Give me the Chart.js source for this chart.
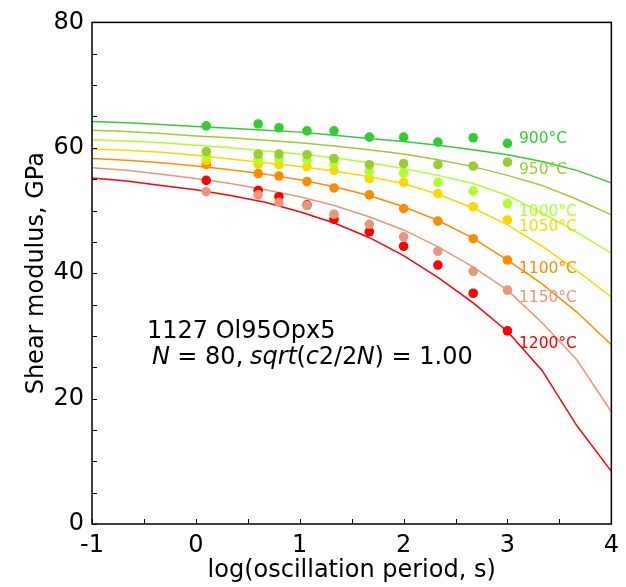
<!DOCTYPE html>
<html>
<head>
<meta charset="utf-8">
<script src="https://cdn.jsdelivr.net/npm/chart.js@4.4.0/dist/chart.umd.min.js"></script>
<style>
  html, body { margin: 0; padding: 0; background: #fff; }
  #grafico-modulo { display: block; }
</style>
</head>
<body>
<canvas id="grafico-modulo" width="626" height="587"></canvas>
<script>
// temperaturas e cores de cada serie
const temperaturas = ['900°C', '950°C', '1000°C', '1050°C', '1100°C', '1150°C', '1200°C']
const cores = ['#32cd32', '#9acd32', '#adff2f', '#ffd700', '#ff8c00', '#e9967a', '#ff0000']

// pontos medidos: log(periodo) e modulo em GPa
const periodos = [0.1, 0.6, 0.8, 1.07, 1.33, 1.67, 2.0, 2.33, 2.67, 3.0]
const medidos900 = [63.5, 63.8, 63.2, 62.7, 62.7, 61.7, 61.7, 60.9, 61.6, 60.7]
const medidos950 = [59.4, 59.0, 59.0, 58.9, 58.3, 57.3, 57.5, 57.3, 57.1, 57.7]
const medidos1000 = [58.7, 58.1, 58.3, 58.0, 57.5, 56.2, 56.0, 54.5, 53.1, 51.1]
const medidos1050 = [58.0, 57.4, 57.3, 57.0, 56.4, 55.1, 54.5, 52.7, 50.6, 48.5]
const medidos1100 = [57.3, 55.9, 55.5, 54.6, 53.6, 52.5, 50.3, 48.3, 45.5, 42.1]
const medidos1150 = [53.0, 52.5, 51.3, 50.8, 49.4, 47.8, 45.8, 43.5, 40.3, 37.3]
const medidos1200 = [54.8, 53.2, 52.2, 50.9, 48.6, 46.6, 44.3, 41.3, 36.8, 30.8]

// curvas do modelo
const modeloX = [-1, -0.667, -0.333, 0, 0.333, 0.667, 1, 1.333, 1.667, 2, 2.333, 2.667, 3, 3.333, 3.667, 4]
const modelo900 = [64.2, 64.0, 63.7, 63.4, 63.1, 62.8, 62.5, 62.0, 61.5, 61.0, 60.4, 59.7, 58.9, 57.8, 56.4, 54.4]
const modelo950 = [62.8, 62.6, 62.3, 61.9, 61.6, 61.2, 60.8, 60.3, 59.7, 59.0, 58.1, 57.0, 55.6, 54.0, 51.8, 49.3]
const modelo1000 = [61.3, 61.1, 60.8, 60.4, 60.0, 59.5, 59.0, 58.4, 57.6, 56.7, 55.6, 54.3, 52.4, 49.6, 46.5, 43.2]
const modelo1050 = [59.8, 59.6, 59.3, 58.8, 58.2, 57.6, 57.0, 56.3, 55.4, 54.3, 52.6, 50.4, 47.7, 44.3, 40.4, 36.2]
const modelo1100 = [58.3, 58.0, 57.6, 57.1, 56.5, 55.8, 54.9, 53.8, 52.4, 50.6, 48.4, 45.6, 42.1, 38.3, 33.8, 28.6]
const modelo1150 = [56.8, 56.4, 55.8, 55.1, 54.3, 53.3, 52.2, 50.8, 49.0, 46.9, 44.2, 41.0, 37.3, 32.1, 26.2, 17.9]
const modelo1200 = [55.2, 54.7, 54.0, 53.3, 52.4, 51.3, 49.8, 48.0, 45.7, 42.8, 39.3, 35.3, 30.7, 24.5, 15.7, 8.4]

// onde fica o nome de cada temperatura
const rotuloX = 3.11
const rotuloY = [61.4, 56.5, 49.8, 47.4, 40.7, 36.1, 28.7]

const marcasX = [-1, -0.5, 0, 0.5, 1, 1.5, 2, 2.5, 3, 3.5, 4]
const marcasY = [0, 5, 10, 15, 20, 25, 30, 35, 40, 45, 50, 55, 60, 65, 70, 75, 80]

const medidos = [medidos900, medidos950, medidos1000, medidos1050, medidos1100, medidos1150, medidos1200]
const modelos = [modelo900, modelo950, modelo1000, modelo1050, modelo1100, modelo1150, modelo1200]

const fonte = 'DejaVu Sans'

let datasets = []
temperaturas.forEach((temp, i) => {
  datasets.push({
    label: temp + ' medido',
    data: periodos.map((x, j) => ({x: x, y: medidos[i][j]})),
    showLine: false,
    pointRadius: 4.8,
    pointBorderWidth: 0,
    backgroundColor: cores[i],
    borderColor: cores[i],
    order: 0
  })
})
temperaturas.forEach((temp, i) => {
  datasets.push({
    label: temp + ' modelo',
    data: modeloX.map((x, j) => ({x: x, y: modelos[i][j]})),
    showLine: true,
    pointRadius: 0,
    borderWidth: 1.5,
    borderColor: cores[i],
    tension: 0,
    order: 1
  })
})

// moldura, marcas para dentro e textos
const extras = {
  id: 'extras',
  afterDraw(chart) {
    const ctx = chart.ctx
    const area = chart.chartArea
    const sx = chart.scales.x
    const sy = chart.scales.y
    ctx.save()
    ctx.strokeStyle = '#000'
    ctx.lineWidth = 1.5
    ctx.strokeRect(area.left, area.top, area.right - area.left, area.bottom - area.top)
    ctx.lineWidth = 1
    ctx.beginPath()
    marcasX.forEach(v => {
      const px = Math.round(sx.getPixelForValue(v)) + 0.5
      ctx.moveTo(px, area.bottom)
      ctx.lineTo(px, area.bottom - 5)
    })
    marcasY.forEach(v => {
      const py = Math.round(sy.getPixelForValue(v)) + 0.5
      ctx.moveTo(area.left, py)
      ctx.lineTo(area.left + 5, py)
    })
    ctx.stroke()

    // nomes das temperaturas
    ctx.font = '15.5px "' + fonte + '"'
    ctx.textBaseline = 'middle'
    ctx.textAlign = 'left'
    temperaturas.forEach((temp, i) => {
      ctx.fillStyle = cores[i]
      ctx.fillText(temp, sx.getPixelForValue(rotuloX), sy.getPixelForValue(rotuloY[i]))
    })

    // anotacao
    ctx.fillStyle = '#000'
    ctx.textBaseline = 'alphabetic'
    ctx.font = '24px "' + fonte + '"'
    ctx.fillText('1127 Ol95Opx5', 147, 338)
    const pedacos = [['N', true], [' = 80, ', false], ['sqrt', true], ['(', false], ['c', true], ['2/2', false], ['N', true], [') = 1.00', false]]
    let x = 152
    pedacos.forEach(p => {
      ctx.font = (p[1] ? 'italic ' : '') + '24px "' + fonte + '"'
      ctx.fillText(p[0], x, 364)
      x += ctx.measureText(p[0]).width * 0.988
    })
    ctx.restore()
  }
}

new Chart(document.querySelector('#grafico-modulo').getContext('2d'), {
  type: 'scatter',
  data: { datasets: datasets },
  options: {
    responsive: false,
    animation: false,
    devicePixelRatio: 1,
    layout: { padding: { left: 0, right: 14, top: 18, bottom: 0 } },
    plugins: { legend: { display: false }, tooltip: { enabled: false } },
    scales: {
      x: {
        type: 'linear',
        min: -1,
        max: 4,
        grid: { display: false, drawTicks: false },
        border: { display: false },
        ticks: { stepSize: 1, padding: 7, color: '#000', font: { family: fonte, size: 24 } },
        title: { display: true, text: 'log(oscillation period, s)', color: '#000', font: { family: fonte, size: 24 }, padding: { top: 0, bottom: 2 } },
        afterFit(scale) { scale.height = 63 }
      },
      y: {
        type: 'linear',
        min: 0,
        max: 80,
        grid: { display: false, drawTicks: false },
        border: { display: false },
        ticks: { stepSize: 20, padding: 8, color: '#000', font: { family: fonte, size: 24 } },
        title: { display: true, text: 'Shear modulus, GPa', color: '#000', font: { family: fonte, size: 24 }, padding: { top: 22, bottom: 0 } },
        afterFit(scale) { scale.width = 92 }
      }
    }
  },
  plugins: [extras]
})
</script>
</body>
</html>
